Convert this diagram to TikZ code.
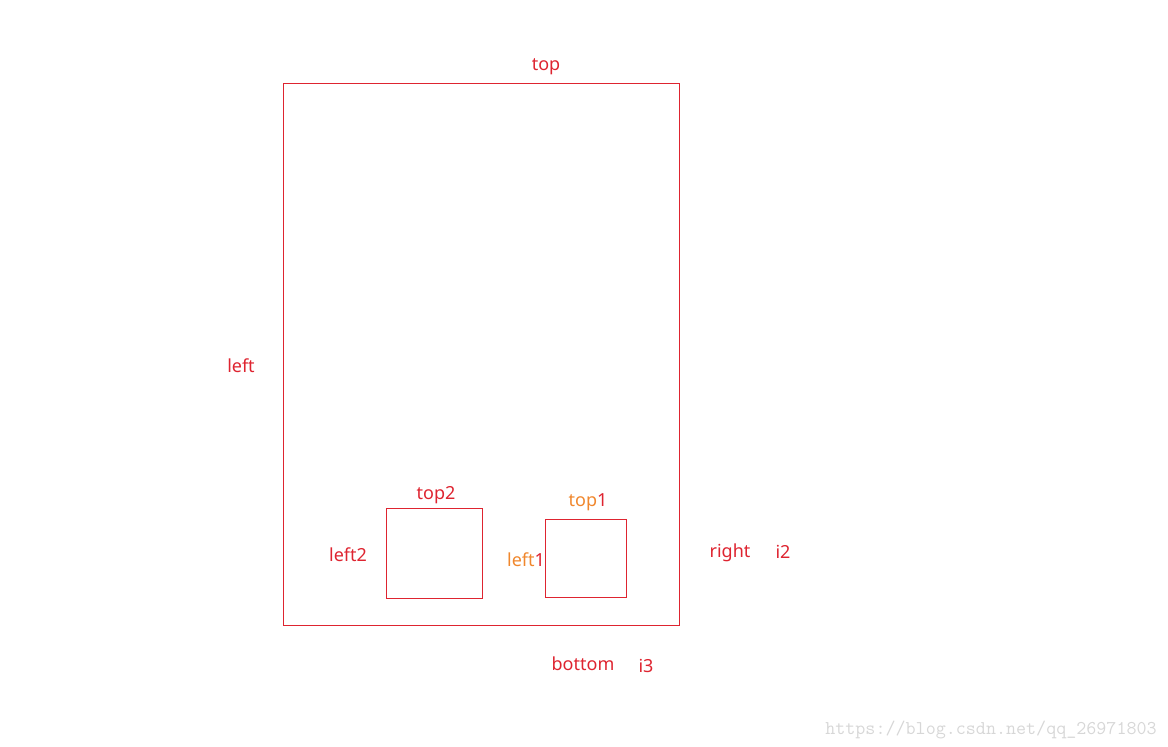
\documentclass[tikz,border=0pt]{standalone}
\usepackage{fontspec}
\setmainfont{Noto Sans}
\definecolor{lred}{RGB}{222,36,48}
\definecolor{lorange}{RGB}{240,135,45}
\definecolor{wm}{RGB}{215,215,215}
\begin{document}
\begin{tikzpicture}[x=1pt,y=-1pt,
  box/.style={draw=lred,line width=0.9pt},
  lab/.style={text=lred,font=\fontsize{18}{18}\selectfont,inner sep=0pt,anchor=base}]
\useasboundingbox (0,0) rectangle (1168,747);
\draw[box] (283,83) rectangle (679,625);
\draw[box] (386,508.5) rectangle (482,598);
\draw[box] (545,519) rectangle (626,597);
\node[lab] (top) at (546,70) {top};
\node[lab] (left) at (241,372) {left};
\node[lab] (top2) at (436,499) {top2};
\node[lab] (left2) at (348,561) {left2};
\node[lab] (top1) at (588,506) {\textcolor{lorange}{top}1};
\node[lab] (left1) at (526,566) {\textcolor{lorange}{left}1};
\node[lab] (right) at (730,557) {right};
\node[lab] (i2) at (783,558) {i2};
\node[lab] (bottom) at (583,670) {bottom};
\node[lab] (i3) at (646,672) {i3};
\node[text=wm,font=\ttfamily\fontsize{19.5}{19.5}\selectfont,inner sep=0pt,anchor=base] (wm) at (991,734) {https://blog.csdn.net/qq\_26971803};
\end{tikzpicture}
\end{document}
